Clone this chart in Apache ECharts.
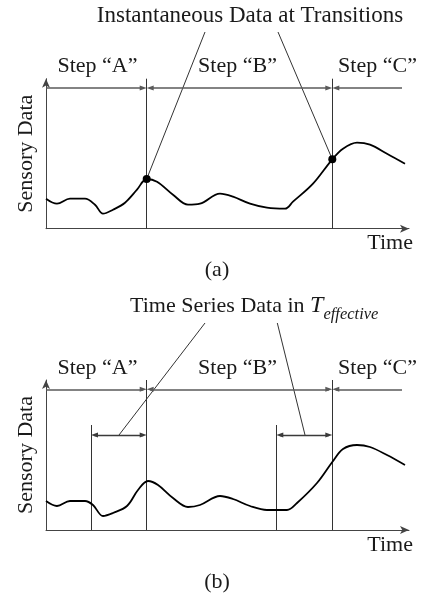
<!DOCTYPE html>
<html><head><meta charset="utf-8">
<script src="https://cdn.jsdelivr.net/npm/echarts@6/dist/echarts.min.js"></script>
<style>html,body{margin:0;padding:0;background:#fff}#c{width:424px;height:594px}</style>
</head><body><div id="c"></div>
<script>
const FONT = '"Liberation Serif","Times New Roman",serif';
const TXT = '#1a1a1a';

// ---- data ----
const panelLabels = ['(a)', '(b)'];
const titleA = 'Instantaneous Data at Transitions';
const titleB = 'Time Series Data in ';
const titleBSymbol = 'T';
const titleBSub = 'effective';
const stepNames = ['Step “A”', 'Step “B”', 'Step “C”'];
const stepLabelTime = [52, 192, 332];
const stepLabelLevel = 161.5;
const transitions = [100.7, 286.3];
const stepLevel = 140.7;
const stepLineEnd = 356;

// panel (a) sensory curve
const timeA = [0, 11, 24, 39, 49, 57, 67, 79, 91, 100.7, 111, 127, 142, 154, 174, 187, 204, 221, 239, 247, 267, 286.3, 297, 311, 324, 341, 359];
const sensorA = [30, 25, 30, 30, 24, 15, 19, 26, 39, 49.7, 47, 34, 24, 25, 35, 32, 25, 21, 20, 27, 45, 69.4, 80, 86, 84, 75, 65];
const dotSensorA = [49.7, 69.4];
const pointerFromA = [[159, 196.7], [232, 196.7]];

// panel (b) sensory curve
const timeB = [0, 11, 24, 39, 47, 57, 67, 81, 92, 102, 112, 127, 142, 154, 174, 187, 204, 221, 241, 251, 271, 286.3, 297, 311, 324, 341, 359];
const sensorB = [29, 24, 29, 29, 25, 14, 17, 24, 40, 49, 45, 32, 23, 25, 34, 31, 24, 20, 20, 27, 47, 68, 81, 85, 83, 75, 65];
const effectiveStart = [45, 230.3];
const effectiveTop = 105;
const effectiveLevel = 95;
const pointerFromB = [[159, 207], [231.3, 207]];
const pointerToB = [[73, 95], [259, 95]];

// ---- styles ----
const AH = 7, AW = 5, G = AH / 2; // arrow head size; tip offset
const axisCol = '#444';

function zip(a, b) { return a.map((v, i) => [v, b[i]]); }

function stepSegments() {
  const L = stepLevel, t0 = transitions[0], t1 = transitions[1];
  return [
    [{ coord: [0, L] }, { coord: [t0 - G, L], symbol: 'triangle' }],
    [{ coord: [t0 + G, L], symbol: 'triangle' }, { coord: [t1 - G, L], symbol: 'triangle' }],
    [{ coord: [t1 + G, L], symbol: 'triangle' }, { coord: [stepLineEnd, L] }]
  ];
}

const grids = [
  { left: 46, top: 78.7, width: 363, height: 150 },
  { left: 46, top: 380, width: 363, height: 150 }
];
const xAxes = grids.map((g, i) => ({
  type: 'value', gridIndex: i, min: 0, max: 363,
  axisLine: { show: true, symbol: ['none', 'arrow'], symbolSize: [6, 9], lineStyle: { color: axisCol, width: 1 } },
  axisTick: { show: false }, axisLabel: { show: false }, splitLine: { show: false },
  name: 'Time', nameLocation: 'end', nameGap: 4,
  nameTextStyle: { fontFamily: FONT, fontSize: 22, color: TXT, align: 'right', verticalAlign: 'top', padding: [4, 0, 0, 0] }
}));
const yAxes = grids.map((g, i) => ({
  type: 'value', gridIndex: i, min: 0, max: 150,
  axisLine: { show: true, symbol: ['none', 'arrow'], symbolSize: [6, 9], lineStyle: { color: axisCol, width: 1 } },
  axisTick: { show: false }, axisLabel: { show: false }, splitLine: { show: false },
  name: 'Sensory Data', nameLocation: 'middle', nameGap: 9,
  nameTextStyle: { fontFamily: FONT, fontSize: 22, color: TXT }
}));

const markBase = {
  silent: true, symbol: ['none', 'none'], symbolSize: [AW, AH],
  label: { show: false }, emphasis: { disabled: true }, animation: false
};

const series = [];
[[timeA, sensorA], [timeB, sensorB]].forEach(([t, s], i) => {
  const mlData = stepSegments().map(seg => [
    Object.assign({ lineStyle: { color: '#5a5a5a', width: 1.6, type: 'solid' } }, seg[0]), seg[1]
  ]);
  transitions.forEach(x => mlData.push({ xAxis: x, lineStyle: { color: '#333', width: 1, type: 'solid' } }));
  if (i === 1) {
    effectiveStart.forEach((x, k) => {
      const end = transitions[k];
      mlData.push([{ coord: [x, 0], lineStyle: { color: '#333', width: 1, type: 'solid' } }, { coord: [x, effectiveTop] }]);
      mlData.push([{ coord: [x + G, effectiveLevel], symbol: 'triangle', lineStyle: { color: '#3a3a3a', width: 1.4, type: 'solid' } },
                   { coord: [end - G, effectiveLevel], symbol: 'triangle' }]);
    });
  }
  series.push({
    type: 'line', xAxisIndex: i, yAxisIndex: i, data: zip(t, s), smooth: 0.35,
    symbol: 'none', silent: true, z: 5,
    lineStyle: { color: '#000', width: 1.8 },
    markLine: Object.assign({}, markBase, { data: mlData, lineStyle: { type: 'solid' } })
  });
  // step labels
  series.push({
    type: 'scatter', xAxisIndex: i, yAxisIndex: i, clip: false, symbolSize: 1, silent: true,
    itemStyle: { color: 'rgba(0,0,0,0)', opacity: 1 },
    data: stepNames.map((n, k) => ({ name: n, value: [stepLabelTime[k], stepLabelLevel] })),
    label: { show: true, position: [0, 0], align: 'center', verticalAlign: 'middle', opacity: 1,
      formatter: p => p.name, fontFamily: FONT, fontSize: 22, color: TXT, textBorderWidth: 0 }
  });
});
// dots at transitions (panel a)
series.push({
  type: 'scatter', xAxisIndex: 0, yAxisIndex: 0, symbolSize: 8, silent: true, z: 6,
  itemStyle: { color: '#000', opacity: 1 },
  data: transitions.map((x, k) => [x, dotSensorA[k]])
});
// pointer lines
pointerFromA.forEach((p, k) => series.push({
  type: 'line', xAxisIndex: 0, yAxisIndex: 0, clip: false, symbol: 'none', silent: true,
  lineStyle: { color: '#333', width: 1 }, data: [p, [transitions[k], dotSensorA[k]]]
}));
pointerFromB.forEach((p, k) => series.push({
  type: 'line', xAxisIndex: 1, yAxisIndex: 1, clip: false, symbol: 'none', silent: true,
  lineStyle: { color: '#333', width: 1 }, data: [p, pointerToB[k]]
}));

const chart = echarts.init(document.getElementById('c'), null, { renderer: 'canvas' });
chart.setOption({
  animation: false,
  backgroundColor: '#fff',
  grid: grids, xAxis: xAxes, yAxis: yAxes, series,
  graphic: [
    { type: 'text', x: 250, y: 16, style: { text: titleA, font: '23px ' + FONT, fill: TXT, align: 'center', verticalAlign: 'middle' } },
    { type: 'text', x: 217, y: 270, style: { text: panelLabels[0], font: '22px ' + FONT, fill: TXT, align: 'center', verticalAlign: 'middle' } },
    { type: 'text', x: 130, y: 306, style: {
        text: '{a|' + titleB + '}{t|' + titleBSymbol + '}{s|' + titleBSub + '}',
        align: 'left', verticalAlign: 'middle',
        rich: {
          a: { fontFamily: FONT, fontSize: 22, fill: TXT, lineHeight: 34 },
          t: { fontFamily: FONT, fontSize: 24, fontStyle: 'italic', fill: TXT, lineHeight: 34 },
          s: { fontFamily: FONT, fontSize: 16.5, fontStyle: 'italic', fill: TXT, lineHeight: 16, verticalAlign: 'bottom' }
        } } },
    { type: 'text', x: 217, y: 582, style: { text: panelLabels[1], font: '22px ' + FONT, fill: TXT, align: 'center', verticalAlign: 'middle' } }
  ]
});
</script></body></html>
